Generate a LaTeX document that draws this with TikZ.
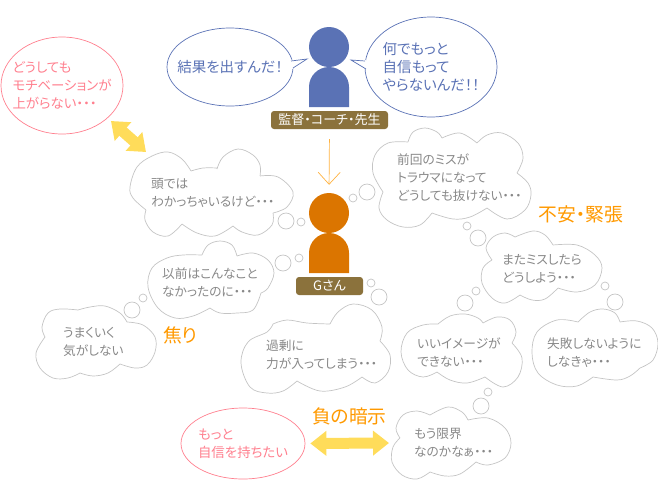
\documentclass[tikz,border=0pt]{standalone}
\usepackage{fontspec}
\setmainfont[RawFeature=+palt]{Noto Sans CJK JP}
\usepackage{xcolor}
\usetikzlibrary{arrows.meta,shapes.geometric}
\definecolor{coachblue}{HTML}{5A72B5}
\definecolor{playerorange}{HTML}{DB7500}
\definecolor{namebrown}{HTML}{8B723C}
\definecolor{wishpink}{HTML}{FF7F8E}
\definecolor{headorange}{HTML}{FF9900}
\definecolor{puffgray}{HTML}{C4C4C4}
\definecolor{thinkgray}{HTML}{888888}
\definecolor{swapyellow}{HTML}{FFDC5A}
\tikzset{
  puffline/.style={draw=puffgray,line width=0.7pt,smooth,tension=0.6},
  thinktext/.style={anchor=west,align=left,inner sep=0pt,text=thinkgray,font=\fontsize{12.7}{18}\selectfont},
  saybubble/.style={ellipse,draw=coachblue,line width=0.7pt,inner sep=0pt},
  saytext/.style={align=left,inner sep=0pt,text=coachblue,font=\fontsize{14.5}{18}\selectfont},
  wishbubble/.style={ellipse,draw=wishpink,line width=0.7pt,inner sep=0pt},
  wishtext/.style={align=left,inner sep=0pt,text=wishpink,font=\fontsize{13.4}{18}\selectfont},
  nameplate/.style={fill=namebrown,rounded corners=3pt,inner sep=0pt,text=white,font=\fontsize{13}{13}\selectfont},
  headline/.style={inner sep=0pt,text=headorange,font=\fontsize{18.8}{19}\selectfont},
  swaparrow/.style={draw=swapyellow,line width=11pt,{Triangle[length=16pt,width=24pt]}-{Triangle[length=16pt,width=24pt]}},
  downarrow/.style={draw=headorange!75,line width=0.7pt,-{Straight Barb[length=12pt,width=22pt]}}
}
\begin{document}
\begin{tikzpicture}[x=1pt,y=-1pt]
  \useasboundingbox (0,0) rectangle (658,480);
  % coach
  \node[circle,fill=coachblue,minimum size=40pt,inner sep=0pt] (coachhead) at (329,47) {};
  \fill[coachblue] (309,107) -- (309,87) arc (180:360:20) -- (349,107) -- cycle;
  \node[nameplate,minimum width=117pt,minimum height=18pt] (coachname) at (329.5,120) {監督・コーチ・先生};
  \node[saybubble,minimum width=126pt,minimum height=78pt] (kekka) at (230,67) {};
  \node[saytext] (kekkatext) at (kekka) {結果を出すんだ！};
  \node[saybubble,minimum width=132pt,minimum height=100pt] (nande) at (431,67) {};
  \node[saytext] (nandetext) at (nande) {何でもっと\\自信もって\\やらないんだ！！};
  \fill[white] (290,60) -- (307,59) -- (292,69) -- cycle;
  \draw[coachblue,line width=0.7pt] (291,61) -- (307,59) -- (293,68);
  \fill[white] (366,60) -- (351,60) -- (367,70) -- cycle;
  \draw[coachblue,line width=0.7pt] (365,61) -- (351,60) -- (366,69);
  % player
  \node[circle,fill=playerorange,minimum size=40pt,inner sep=0pt] (playerhead) at (329,213) {};
  \fill[playerorange] (309,273) -- (309,253) arc (180:360:20) -- (349,273) -- cycle;
  \node[nameplate,minimum width=67pt,minimum height=18pt] (playername) at (329.5,286) {Gさん};
  \draw[downarrow,shorten <=10pt,shorten >=8pt] (coachname.south) -- (playerhead.north);
  % small puffs
  \foreach \x/\y in {353/198,301/222,299/258,371/283,143/298,467/226,605/286,476/291,488/392}
    \draw[puffline] (\x,\y) circle (4pt);
  \foreach \x/\y in {367/192,286/221,283/263,379/297,132/310,478/238,615/302,465/303,481/406}
    \draw[puffline] (\x,\y) circle (8pt);
  % thought clouds
  \draw[puffline]
    plot coordinates {(146,210)(133,198)(130,187)(137,167)(152,156)(168,152)(182,159)(191,171)}
    plot coordinates {(191,171)(203,168)(217,168)}
    plot coordinates {(217,169)(223,157)(238,149)(253,155)(260,165)(260,176)}
    plot coordinates {(260,176)(278,177)(293,192)(287,207)(273,213)}
    plot coordinates {(273,213)(272,225)(258,235)(242,232)(233,226)}
    plot coordinates {(233,226)(215,236)(197,233)(182,224)}
    plot coordinates {(182,224)(168,236)(153,232)(145,220)(146,210)};
  \node[thinktext] (atama) at (151,192.5) {頭では\\わかっちゃいるけど・・・};
  \draw[puffline]
    plot coordinates {(383,192)(373,173)(375,155)(388,143)(408,142)}
    plot coordinates {(408,142)(413,132)(425,128)(437,132)(442,138)}
    plot coordinates {(442,138)(460,133)(477,143)}
    plot coordinates {(477,143)(487,135)(502,133)(518,143)(523,158)(517,173)}
    plot coordinates {(517,173)(528,183)(531,195)(525,210)(507,219)(487,208)}
    plot coordinates {(487,208)(470,217)(453,219)(432,213)}
    plot coordinates {(432,213)(420,225)(403,227)(387,220)(379,208)(383,192)};
  \node[thinktext] (zenkai) at (397,178) {前回のミスが\\トラウマになって\\どうしても抜けない・・・};
  \draw[puffline]
    plot coordinates {(492,260)(486,248)(493,237)(505,233)(515,237)}
    plot coordinates {(515,237)(533,231)(545,235)(553,245)}
    plot coordinates {(553,245)(577,245)(595,255)(602,268)(595,285)(577,292)(558,288)}
    plot coordinates {(558,288)(545,299)(532,300)(520,295)}
    plot coordinates {(520,295)(505,303)(492,298)(482,283)(483,268)(492,260)};
  \node[thinktext] (matamiss) at (502,269) {またミスしたら\\どうしよう・・・};
  \draw[puffline]
    plot coordinates {(210,308)(193,316)(175,318)(158,308)(148,287)(152,268)(167,258)(183,255)(202,255)}
    plot coordinates {(202,255)(208,245)(220,241)(232,245)(237,256)}
    plot coordinates {(237,256)(253,253)(268,260)(274,273)(268,288)(261,293)}
    plot coordinates {(261,293)(253,310)(237,313)(220,313)(210,308)};
  \node[thinktext] (izen) at (162,282) {以前はこんなこと\\なかったのに・・・};
  \draw[puffline]
    plot coordinates {(45,337)(42,327)(48,313)(60,309)(78,310)}
    plot coordinates {(78,310)(90,307)(105,306)(120,313)(127,322)}
    plot coordinates {(127,322)(143,325)(155,337)(155,352)(147,365)(135,368)(120,364)}
    plot coordinates {(120,364)(108,373)(93,376)(80,373)}
    plot coordinates {(80,373)(68,378)(53,378)(40,368)(36,353)(45,337)};
  \node[thinktext] (umaku) at (63,342) {うまくいく\\気がしない};
  \draw[puffline]
    plot coordinates {(297,381)(283,391)(267,393)(250,387)(241,363)(248,342)(267,332)(273,324)}
    plot coordinates {(273,324)(287,320)(307,323)(330,324)}
    plot coordinates {(330,324)(338,312)(353,304)(372,310)(382,327)(380,341)}
    plot coordinates {(380,341)(390,355)(388,372)(375,383)(362,377)}
    plot coordinates {(362,377)(345,387)(320,391)(297,381)};
  \node[thinktext] (kajou) at (266,355) {過剰に\\力が入ってしまう・・・};
  \draw[puffline]
    plot coordinates {(437,372)(423,377)(408,370)(401,352)(407,333)(423,325)(438,324)}
    plot coordinates {(438,324)(450,316)(465,314)(478,318)(483,323)}
    plot coordinates {(483,323)(497,317)(510,320)(516,332)(512,343)}
    plot coordinates {(512,343)(522,358)(518,377)(503,387)(485,377)}
    plot coordinates {(485,377)(467,383)(450,380)(437,372)};
  \node[thinktext] (image) at (417,352.5) {いいイメージが\\できない・・・};
  \draw[puffline]
    plot coordinates {(593,377)(577,386)(557,385)(538,373)(532,353)(537,332)(557,320)(578,322)}
    plot coordinates {(578,322)(590,312)(603,309)(615,313)(620,322)}
    plot coordinates {(620,322)(637,321)(652,328)(658,343)(653,360)(640,368)}
    plot coordinates {(640,368)(630,376)(617,380)(593,377)};
  \node[thinktext] (shippai) at (547,352.5) {失敗しないように\\しなきゃ・・・};
  \draw[puffline]
    plot coordinates {(400,438)(396,428)(403,415)(417,411)(430,415)}
    plot coordinates {(430,415)(448,407)(462,412)(468,420)}
    plot coordinates {(468,420)(488,418)(505,428)(511,443)(505,458)(488,465)(476,462)}
    plot coordinates {(476,462)(460,474)(445,476)(430,472)}
    plot coordinates {(430,472)(417,479)(402,475)(392,462)(393,447)(400,438)};
  \node[thinktext] (genkai) at (414,443) {もう限界\\なのかなぁ・・・};
  % wishes
  \node[wishbubble,minimum width=122pt,minimum height=97pt] (motive) at (62,85.5) {};
  \node[wishtext] (motivetext) at (motive) {どうしても\\モチベーションが\\上がらない・・・};
  \node[wishbubble,minimum width=124pt,minimum height=71pt] (jishin) at (243,443.5) {};
  \node[wishtext] (jishintext) at (jishin) {もっと\\自信を持ちたい};
  \coordinate (motivetip) at (111,121);
  \coordinate (atamatip) at (146,152);
  \coordinate (genkaitip) at (389,443);
  \draw[swaparrow] (motivetip) -- (atamatip);
  \draw[swaparrow,shorten <=5pt] (jishin.east) -- (genkaitip);
  % headings
  \node[headline] (fuan) at (581,214) {不安・緊張};
  \node[headline] (aseri) at (180.5,335) {焦り};
  \node[headline] (anji) at (349.5,416) {負の暗示};
\end{tikzpicture}
\end{document}
